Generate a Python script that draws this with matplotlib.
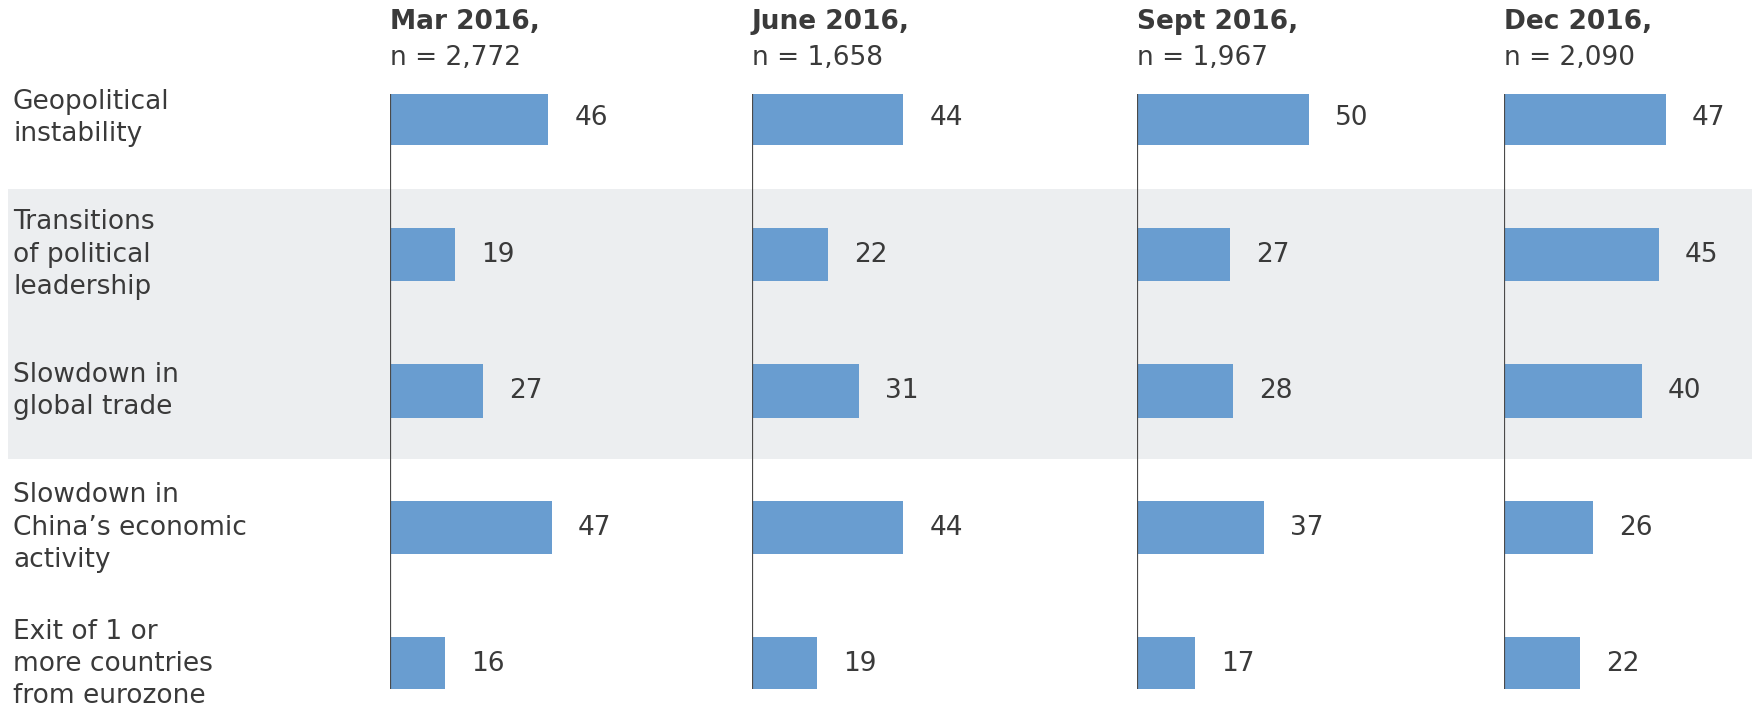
import matplotlib
matplotlib.use("Agg")
import matplotlib.pyplot as plt
import matplotlib.transforms as mtransforms
from matplotlib.patches import Rectangle

# dane
kategorie = ["Geopolitical\ninstability",
             "Transitions\nof political\nleadership",
             "Slowdown in\nglobal trade",
             "Slowdown in\nChina\u2019s economic\nactivity",
             "Exit of 1 or\nmore countries\nfrom eurozone"]
okresy = ["Mar 2016,", "June 2016,", "Sept 2016,", "Dec 2016,"]
liczebnosc = ["n = 2,772", "n = 1,658", "n = 1,967", "n = 2,090"]
mar_2016 = [46, 19, 27, 47, 16]
jun_2016 = [44, 22, 31, 44, 19]
sep_2016 = [50, 27, 28, 37, 17]
dec_2016 = [47, 45, 40, 26, 22]
wartosci = [mar_2016, jun_2016, sep_2016, dec_2016]

plt.rcParams["font.family"] = ["DejaVu Sans"]
kolor_tekstu = "#3a3a3a"
kolor_slupka = "#699dd0"
rozmiar = 19

W, H = 1752, 710
fig = plt.figure(figsize=(W / 100, H / 100), dpi=100)

# pozycje osi (piksele od lewej krawedzi)
osie_x = [390, 752, 1137, 1504]
szer_px = 240
px_na_jedn = 3.44
gora, dol = 94, 689

osie = []
for i, x0 in enumerate(osie_x):
    ax = fig.add_axes([x0 / W, 1 - dol / H, szer_px / W, (dol - gora) / H])
    ax.set_facecolor("none")
    y = list(range(len(kategorie)))
    ax.barh(y, wartosci[i], height=0.39, color=kolor_slupka, zorder=2)
    for yy, v in zip(y, wartosci[i]):
        ax.text(v + 7.6, yy, str(v), va="center", ha="left", fontsize=rozmiar, color=kolor_tekstu)
    ax.axvline(0, color="#4a4a4a", lw=1.6, zorder=3)
    ax.set_xlim(0, szer_px / px_na_jedn)
    ax.set_ylim(4.183, -0.176)
    ax.axis("off")
    # naglowki kolumn
    tr = mtransforms.blended_transform_factory(ax.transAxes, fig.transFigure)
    ax.text(0, 1 - 22 / H, okresy[i], transform=tr, ha="left", va="center",
            fontsize=rozmiar, fontweight="bold", color=kolor_tekstu)
    ax.text(0, 1 - 58 / H, liczebnosc[i], transform=tr, ha="left", va="center",
            fontsize=rozmiar, color=kolor_tekstu)
    osie.append(ax)

ax0 = osie[0]
tr_wiersze = mtransforms.blended_transform_factory(fig.transFigure, ax0.transData)

# szare tlo dla wierszy 2-3
tlo = Rectangle((8 / W, 0.52), 1 - 8 / W, 1.98, transform=tr_wiersze,
                facecolor="#eceef0", edgecolor="none", zorder=-1)
fig.add_artist(tlo)

for i, k in enumerate(kategorie):
    fig.text(13 / W, i, k, transform=tr_wiersze, ha="left", va="center",
             fontsize=rozmiar, color=kolor_tekstu, linespacing=1.32)

plt.savefig("out.png", dpi=100)
